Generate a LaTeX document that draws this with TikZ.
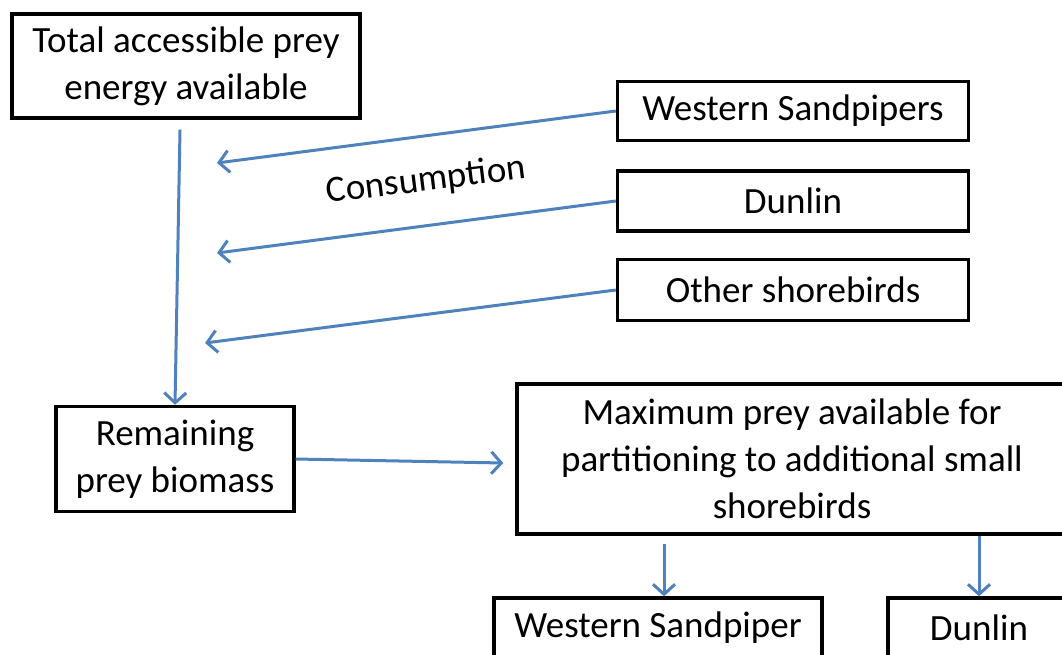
\documentclass[tikz,border=0pt]{standalone}
\usepackage{fontspec}
\setmainfont{Carlito}
\usetikzlibrary{arrows.meta,calc}
\definecolor{arrowblue}{RGB}{79,129,189}
\begin{document}
\begin{tikzpicture}[x=1pt,y=-1pt]
		% styles
		\tikzstyle{box} = [draw, line width=3.4pt, align=center, inner sep=0pt, font=\fontsize{37}{47}\selectfont]
		\tikzstyle{arrow} = [-{Straight Barb[length=10pt,width=22pt]}, line width=3pt, arrowblue]
		\clip (0,0) rectangle (1062,654);
		% nodes
		\node [box, minimum width=348pt, minimum height=104pt] (total) at (186,66)
{Total accessible prey\\energy available};
		\node [box, minimum width=351pt, minimum height=59pt] (ws) at (793,111) {Western Sandpipers};
		\node [box, minimum width=351pt, minimum height=60pt] (dunlin) at (793,201) {Dunlin};
		\node [box, minimum width=351pt, minimum height=61pt] (other) at (793,290) {Other shorebirds};
		\node [box, minimum width=238pt, minimum height=105pt] (remain) at (175,459)
{Remaining\\prey biomass};
		\node [box, minimum width=550pt, minimum height=150pt] (max) at (792,459)
{Maximum prey available for\\partitioning to additional small\\shorebirds};
		\node [box, minimum width=328pt, minimum height=60pt] (bws) at (658,628) {Western Sandpiper};
		\node [box, minimum width=182pt, minimum height=60pt] (bdunlin) at (979,628) {Dunlin};
		\node [rotate=7, font=\fontsize{37}{47}\selectfont] (cons) at (426,181) {Consumption};
		% free ends
		\coordinate (e1) at (217,163);
		\coordinate (e2) at (217,253);
		\coordinate (e3) at (205,343);
		% relations
		\draw [arrow] ($(total.south)+(-6,10)$) -- (remain.north);
		\draw [arrow] (ws.west) -- (e1);
		\draw [arrow] (dunlin.west) -- (e2);
		\draw [arrow] (other.west) -- (e3);
		\draw [arrow] (remain.east) -- ($(max.west)+(-12,4)$);
		\draw [arrow] ($(max.south -| bws.north)+(6,8)$) -- ($(bws.north)+(6,0)$);
		\draw [arrow] (max.south -| bdunlin.north) -- (bdunlin.north);
	\end{tikzpicture}
\end{document}
